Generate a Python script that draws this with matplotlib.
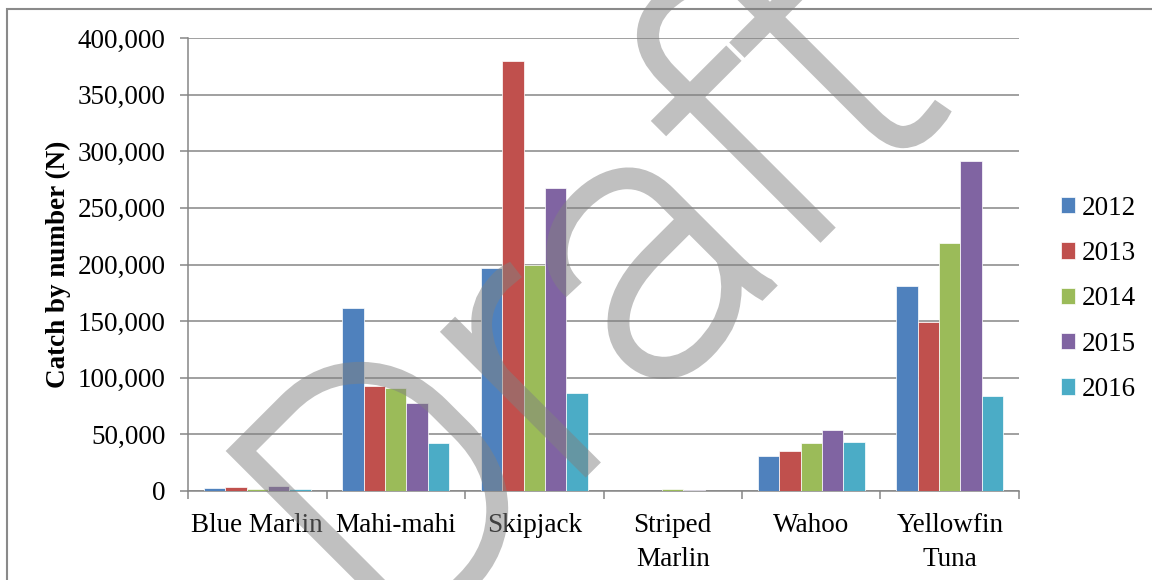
import matplotlib
matplotlib.use("Agg")
import matplotlib.pyplot as plt
import numpy as np
from matplotlib.patches import Rectangle, PathPatch
from matplotlib.textpath import TextPath
from matplotlib.font_manager import FontProperties
from matplotlib.transforms import Affine2D
from matplotlib.ticker import FuncFormatter, FixedLocator

# ---- data ----
categories = ["Blue Marlin", "Mahi-mahi", "Skipjack", "Striped Marlin", "Wahoo", "Yellowfin Tuna"]
tick_labels = ["Blue Marlin", "Mahi-mahi", "Skipjack", "Striped\nMarlin", "Wahoo", "Yellowfin\nTuna"]
years = ["2012", "2013", "2014", "2015", "2016"]
catch_2012 = [2500, 162000, 196500, 0, 31200, 181000]
catch_2013 = [3500, 92700, 379500, 0, 35600, 149500]
catch_2014 = [2000, 91200, 199500, 1700, 42100, 218700]
catch_2015 = [4200, 77400, 267300, 500, 54200, 291700]
catch_2016 = [1800, 42400, 86200, 0, 43300, 83600]
series = [catch_2012, catch_2013, catch_2014, catch_2015, catch_2016]
colors = ["#4F81BD", "#C0504D", "#9BBB59", "#8064A2", "#4BACC6"]

W, H, DPI = 1152, 580, 100
FS = 19.5
plt.rcParams["font.family"] = ["Liberation Serif", "DejaVu Serif"]
fig = plt.figure(figsize=(W / DPI, H / DPI), dpi=DPI)
fig.patch.set_facecolor("white")

ax = fig.add_axes([188 / W, 1 - 491 / H, (1019 - 188) / W, (491 - 38) / H])

n = len(series)
bw = 1 / 6.5
x = np.arange(len(categories))
for i, (vals, c, yr) in enumerate(zip(series, colors, years)):
    ax.bar(x + (i - (n - 1) / 2) * bw, vals, width=bw, color=c, edgecolor="white",
           linewidth=0.5, label=yr, zorder=3)

grid_c = "#868686"
ax.set_xlim(-0.5, len(categories) - 0.5)
ax.set_ylim(0, 400000)
ax.yaxis.set_major_locator(FixedLocator(np.arange(0, 400001, 50000)))
ax.yaxis.set_major_formatter(FuncFormatter(lambda v, p: f"{v:,.0f}"))
ax.grid(axis="y", color=grid_c, linewidth=1.1, zorder=0)
ax.set_axisbelow(True)

ax.set_xticks(x)
ax.set_xticklabels(tick_labels, linespacing=1.45)
ax.set_xticks(np.arange(-0.5, len(categories), 1.0), minor=True)
ax.tick_params(axis="x", which="major", length=0, pad=16, labelsize=FS)
ax.tick_params(axis="x", which="minor", length=6, width=1.1, color=grid_c, direction="out")
ax.tick_params(axis="y", which="major", length=6, width=1.1, color=grid_c, pad=10, labelsize=FS)

for s in ["top", "right"]:
    ax.spines[s].set_visible(False)
for s in ["left", "bottom"]:
    ax.spines[s].set_color(grid_c)
    ax.spines[s].set_linewidth(1.1)

ax.set_ylabel("Catch by number (N)", fontsize=FS, fontweight="bold", labelpad=5)

leg = ax.legend(loc="center left", bbox_to_anchor=(1.05, 0.424), frameon=False,
                fontsize=FS, handlelength=0.55, handleheight=0.55, handletextpad=0.25,
                labelspacing=0.75, borderpad=0, borderaxespad=0)

# figure border (extends beyond bottom/right)
fig.add_artist(Rectangle((7, -50), 1300, 571 + 50, transform=None, fill=False,
                         edgecolor="#8a8a8a", linewidth=1.5, zorder=20))

# watermark (uniform 50% alpha via agg filter so fill+outline don't double up)
def half_alpha(im, dpi):
    im = im.copy()
    im[..., 3] *= 0.5
    return im, 0, 0

wm_prop = FontProperties(family="Roboto", weight="light")
d_path = TextPath((0, 0), "D", size=1, prop=wm_prop)
x0 = d_path.get_extents().x0
tp = TextPath((0, 0), "Draft", size=1, prop=wm_prop)
tr = Affine2D().translate(-x0, 0).scale(368).rotate_deg(45).translate(419, -56)
wm = PathPatch(tp, transform=tr, facecolor="#818181", edgecolor="#818181",
               linewidth=8.5, joinstyle="miter", zorder=30)
wm.set_agg_filter(half_alpha)
fig.add_artist(wm)

fig.savefig("out.png", dpi=DPI)
